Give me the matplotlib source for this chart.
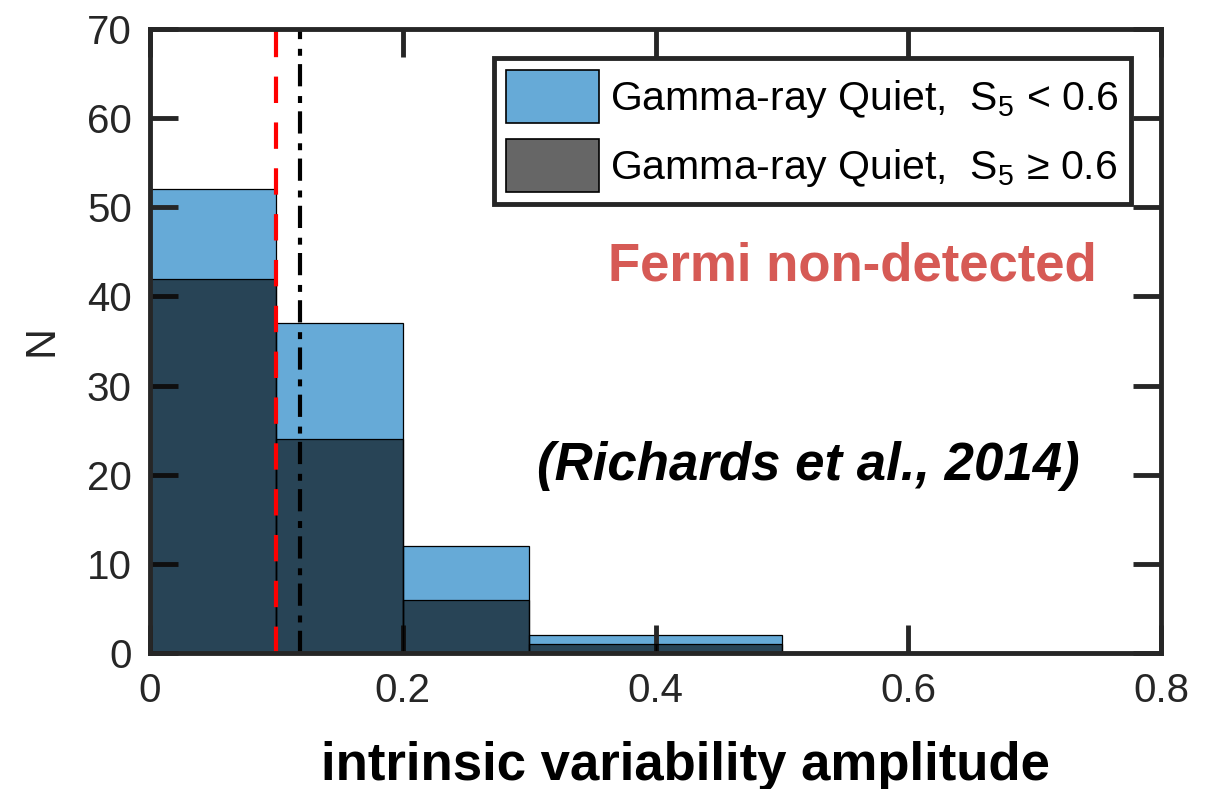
import matplotlib
matplotlib.use("Agg")
import matplotlib.pyplot as plt
import matplotlib.patches as mpatches

# histogram bins and counts for the two source groups
bin_edges = [0.0, 0.1, 0.2, 0.3, 0.4, 0.5]
counts_low = [52, 37, 12, 2, 2]     # S5 < 0.6
counts_high = [42, 24, 6, 1, 1]     # S5 >= 0.6

# reference lines
red_line_x = 0.1
black_line_x = 0.119

x_ticks = [0, 0.2, 0.4, 0.6, 0.8]
x_tick_labels = ["0", "0.2", "0.4", "0.6", "0.8"]
y_ticks = [0, 10, 20, 30, 40, 50, 60, 70]

legend_labels = [r"Gamma-ray Quiet,  S$_5$ < 0.6",
                 "Gamma-ray Quiet,  S$_5$ \u2265 0.6"]

BLUE = (0.0, 0.447, 0.741, 0.6)
DARK = (0.0, 0.0, 0.0, 0.6)
AXCOL = "#262626"

plt.rcParams["font.family"] = ["Liberation Sans", "DejaVu Sans"]
plt.rcParams["mathtext.fontset"] = "custom"
plt.rcParams["mathtext.rm"] = "Liberation Sans"
plt.rcParams["mathtext.it"] = "Liberation Sans:italic"
plt.rcParams["lines.scale_dashes"] = False

fig = plt.figure(figsize=(12.2, 7.89), dpi=100)
ax = fig.add_axes([150 / 1220, 1 - 653 / 789, 1011 / 1220, (653 - 29) / 789])

lefts = bin_edges[:-1]
widths = [b - a for a, b in zip(bin_edges[:-1], bin_edges[1:])]
ax.bar(lefts, counts_low, width=widths, align="edge", color=BLUE,
       edgecolor="black", linewidth=0.9, zorder=2)
ax.bar(lefts, counts_high, width=widths, align="edge", color=DARK,
       edgecolor="black", linewidth=0.9, zorder=3)

ax.axvline(red_line_x, color="#ff0000", linewidth=3, dashes=(19, 14), zorder=4)
ax.axvline(black_line_x, color="black", linewidth=3, dashes=(16, 6, 5, 7), zorder=4)

ax.set_xlim(0, 0.8)
ax.set_ylim(0, 70)
ax.set_xticks(x_ticks)
ax.set_xticklabels(x_tick_labels)
ax.set_yticks(y_ticks)
ax.set_axisbelow(False)
ax.tick_params(direction="in", length=20, width=3.5, top=True, right=True,
               color=AXCOL, labelcolor=AXCOL, labelsize=29)
ax.tick_params(axis="x", pad=14)
ax.tick_params(axis="y", pad=13)
for sp in ax.spines.values():
    sp.set_linewidth(3.5)
    sp.set_color(AXCOL)
    sp.set_zorder(5)

ax.set_ylabel("N", fontsize=31, color=AXCOL, labelpad=18)

handles = [
    mpatches.Patch(facecolor=BLUE, edgecolor="black", linewidth=1.2),
    mpatches.Patch(facecolor=DARK, edgecolor="black", linewidth=1.2),
]
leg = ax.legend(handles, legend_labels, loc="upper right",
                bbox_to_anchor=(1 - 30 / 1011, 1 - 29 / 624),
                fontsize=29.5, frameon=True, fancybox=False, framealpha=1,
                edgecolor=AXCOL, borderpad=0.3, labelspacing=0.4,
                handlelength=2.25, handleheight=1.6, handletextpad=0.28,
                borderaxespad=0)
leg.get_frame().set_linewidth(3.5)
leg.set_zorder(6)

fig.text(852 / 1220, 1 - 280 / 789, "Fermi non-detected",
         fontsize=38, fontweight="bold", color="#d65a55",
         ha="center", va="baseline")
fig.text(808 / 1220, 1 - 480 / 789, "(Richards et al., 2014)",
         fontsize=38, fontweight="bold", fontstyle="italic", color="black",
         ha="center", va="baseline")
fig.text(685 / 1220, 1 - 780 / 789, "intrinsic variability amplitude",
         fontsize=38, fontweight="bold", color="black",
         ha="center", va="baseline")

fig.savefig("out.png", dpi=100)
